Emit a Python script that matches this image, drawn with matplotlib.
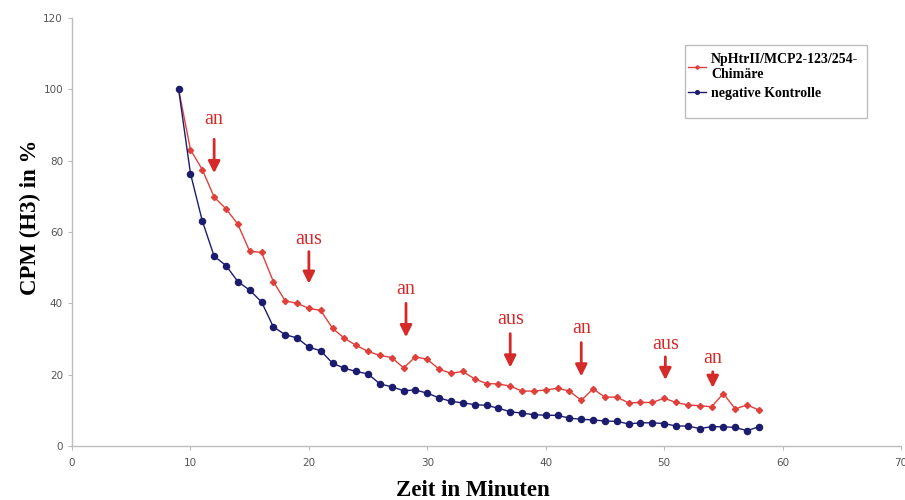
import matplotlib
matplotlib.use("Agg")
import matplotlib.pyplot as plt
from matplotlib.patches import Rectangle

# Measurement times (minutes)
zeit = list(range(9, 59))

# Chimera (red) – CPM in % of start value
chimaere = [100.0, 83.1, 77.5, 69.8, 66.5, 62.2, 54.6, 54.3, 46.1, 40.7,
            40.0, 38.6, 38.0, 33.0, 30.2, 28.2, 26.5, 25.4, 24.8, 21.9,
            25.0, 24.3, 21.5, 20.4, 20.9, 18.8, 17.5, 17.4, 16.8, 15.4,
            15.4, 15.7, 16.2, 15.4, 12.8, 16.0, 13.7, 13.7, 12.1, 12.2,
            12.2, 13.4, 12.2, 11.5, 11.3, 11.0, 14.7, 10.4, 11.5, 10.1]

# Negative control (blue)
kontrolle = [100.0, 76.4, 63.1, 53.2, 50.6, 46.1, 43.7, 40.4, 33.4, 31.2,
             30.3, 27.7, 26.7, 23.2, 21.8, 20.9, 20.2, 17.4, 16.6, 15.5,
             15.7, 14.8, 13.5, 12.5, 12.1, 11.6, 11.4, 10.6, 9.6, 9.2,
             8.8, 8.6, 8.6, 7.8, 7.5, 7.3, 7.0, 6.9, 6.2, 6.5,
             6.5, 6.3, 5.6, 5.6, 4.9, 5.4, 5.4, 5.2, 4.3, 5.4]

# Light switching events: label, x, text y, arrow start y, arrow end y
schalt_text = ["an", "aus", "an", "aus", "an", "aus", "an"]
schalt_x = [12, 20, 28.2, 37, 43, 50.1, 54.1]
schalt_text_y = [91.5, 58.0, 44.0, 35.5, 33.0, 28.5, 24.5]
pfeil_start = [86.0, 54.5, 40.0, 31.5, 29.0, 25.0, 20.8]
pfeil_ende = [76.5, 45.5, 30.5, 22.0, 19.5, 18.5, 16.3]

rot = "#e0403c"
blau = "#1c1c6e"
pfeil_rot = "#d42a2a"
grau = "#bdbdbd"

fig = plt.figure(figsize=(9.05, 5.0), dpi=100)
ax = fig.add_axes([0.0796, 0.108, 0.916, 0.856])

ax.plot(zeit, chimaere, color=rot, lw=1.0, marker="D", ms=3.1,
        mfc=rot, mec=rot, label="NpHtrII/MCP2-123/254-\nChimäre", zorder=3)
ax.plot(zeit, kontrolle, color=blau, lw=1.0, marker="o", ms=4.4,
        mfc=blau, mec=blau, label="negative Kontrolle", zorder=3)

for t, x, ty, y0, y1 in zip(schalt_text, schalt_x, schalt_text_y,
                            pfeil_start, pfeil_ende):
    ax.text(x, ty, t, color=pfeil_rot, fontsize=14.5, family="Liberation Serif",
            ha="center", va="center")
    ax.annotate("", xy=(x, y1), xytext=(x, y0),
                arrowprops=dict(arrowstyle="-|>,head_width=0.35,head_length=0.7",
                                color=pfeil_rot, lw=2.0, shrinkA=0, shrinkB=0))

ax.set_xlim(0, 70)
ax.set_ylim(0, 120)
ax.set_xticks(range(0, 71, 10))
ax.set_yticks(range(0, 121, 20))

for s in ("top", "right"):
    ax.spines[s].set_visible(False)
for s in ("left", "bottom"):
    ax.spines[s].set_color(grau)
    ax.spines[s].set_linewidth(1.0)
ax.tick_params(axis="both", colors=grau, direction="out", length=3,
               labelsize=7.5, labelcolor="#555555")
ax.tick_params(axis="x", pad=6)

ax.set_xlabel("Zeit in Minuten", family="Liberation Serif", fontweight="bold",
              fontsize=16.5)
ax.xaxis.set_label_coords(0.484, -0.103)
ax.xaxis.label.set_va("center")
ax.set_ylabel("CPM (H3) in %", family="Liberation Serif", fontweight="bold",
              fontsize=16.5)
ax.yaxis.set_label_coords(-0.05, 0.535)
ax.yaxis.label.set_va("center")

# Legend with its own, taller frame
leg = ax.legend(loc="upper left", bbox_to_anchor=(0.735, 0.935),
                prop=dict(family="Liberation Serif", weight="bold", size=10.0),
                frameon=False, handlelength=1.3, markerscale=0.6,
                borderpad=0.0, labelspacing=0.45, handletextpad=0.35)
for txt in leg.get_texts():
    txt.set_linespacing(1.2)
ax.add_patch(Rectangle((0.739, 0.766), 0.220, 0.171, transform=ax.transAxes,
                       fill=False, edgecolor=grau, lw=1.0, zorder=5))

fig.savefig("out.png", dpi=100)
